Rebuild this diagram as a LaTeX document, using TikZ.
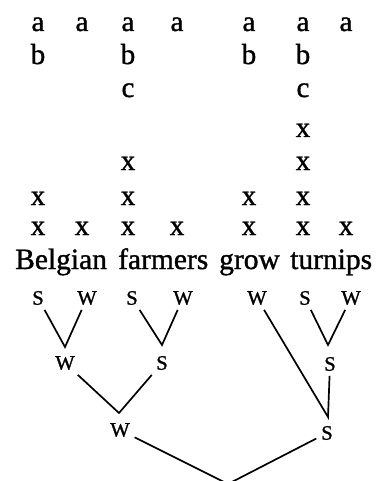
\documentclass[tikz,border=0pt]{standalone}
\usepackage{fontspec}
\setmainfont{Liberation Serif}[FakeBold=1.2]
\begin{document}
\begin{tikzpicture}[x=1pt,y=-1pt,
  grid/.style={anchor=base,inner sep=0pt,font=\fontsize{29}{30}\selectfont},
  word/.style={anchor=base west,inner sep=0pt,font=\fontsize{29.5}{31}\selectfont},
  lab/.style={inner sep=0pt,outer sep=5pt,font=\fontsize{20.5}{21}\selectfont},
  arm/.style={line width=1.7pt}]
\clip (0,0) rectangle (375,481);
% grid
\foreach \n/\x in {1/38,2/82,3/128,4/177,5/249,6/303,7/346}{
  \node[grid] (a\n) at (\x,31) {a};
  \node[grid] (xd\n) at (\x,235) {x};
}
\foreach \n/\x in {1/38,3/128,5/249,6/303}{
  \node[grid] (b\n) at (\x,64) {b};
  \node[grid] (xc\n) at (\x,205) {x};
}
\foreach \n/\x in {3/128,6/303}{
  \node[grid] (c\n) at (\x,97) {c};
  \node[grid] (xb\n) at (\x,170) {x};
}
\node[grid] (xa6) at (303,137) {x};
% words
\node[word] (w1) at (15,269) {Belgian};
\node[word] (w2) at (118,269) {farmers};
\node[word] (w3) at (219,269) {grow};
\node[word] (w4) at (290,269) {turnips};
% labels
\node[lab] (l1) at (38,298) {S};
\node[lab] (l2) at (87,298) {W};
\node[lab] (l3) at (132,298) {S};
\node[lab] (l4) at (183,298) {W};
\node[lab] (l5) at (257,298) {W};
\node[lab] (l6) at (305,298) {S};
\node[lab] (l7) at (351,298) {W};
\node[lab] (m1) at (65,363) {W};
\node[lab] (m2) at (162,363) {S};
\node[lab] (m3) at (330,364) {S};
\node[lab] (n1) at (120,430) {W};
\node[lab] (n2) at (327,433) {S};
\coordinate (p1) at (65,347);
\coordinate (p2) at (162,345);
\coordinate (p3) at (119,413);
\coordinate (p4) at (328,345);
\coordinate (p5) at (328,417);
\coordinate (p6) at (228,484);
\draw[arm] (l1) -- (p1) -- (l2);
\draw[arm] (l3) -- (p2) -- (l4);
\draw[arm] (m1) -- (p3) -- (m2);
\draw[arm] (l6) -- (p4) -- (l7);
\draw[arm] (l5) -- (p5) -- (m3);
\draw[arm] (n1) -- (p6) -- (n2);
\end{tikzpicture}
\end{document}
